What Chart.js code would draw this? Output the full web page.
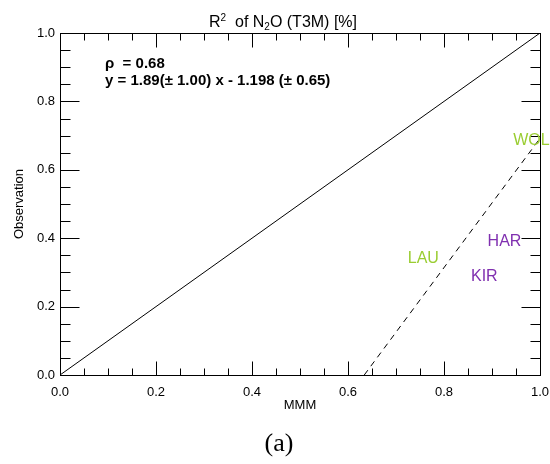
<!DOCTYPE html>
<html>
<head>
<meta charset="utf-8">
<script src="https://cdn.jsdelivr.net/npm/chart.js@4.4.1/dist/chart.umd.min.js"></script>
<style>
  html, body { margin: 0; padding: 0; background: #fff; }
  canvas { display: block; }
</style>
</head>
<body>
<canvas id="c" width="550" height="464"></canvas>
<script>
// Station labels: model (MMM) vs observation of R2
const stations = ['WOL', 'LAU', 'HAR', 'KIR'];
const stationModel = [0.982, 0.757, 0.926, 0.884];
const stationObs = [0.686, 0.341, 0.390, 0.288];
const stationColors = ['#9acd32', '#9acd32', '#8030b0', '#8030b0'];

// Linear fit and correlation
const fitSlope = 1.89;
const fitSlopeErr = 1.00;
const fitIntercept = -1.198;
const fitInterceptErr = 0.65;
const rho = 0.68;

// Axis setup
const axisMin = 0;
const axisMax = 1;
const majorTicks = [0.0, 0.2, 0.4, 0.6, 0.8, 1.0];
const minorStep = 0.05;

const FONT = 'Liberation Sans, Arial, Helvetica, sans-serif';

// Fit line runs from where it crosses y = 0 up to the right edge
const fitStartX = -fitIntercept / fitSlope;
const fitLine = [
  { x: fitStartX, y: fitSlope * fitStartX + fitIntercept },
  { x: axisMax, y: fitSlope * axisMax + fitIntercept }
];
const oneToOne = [{ x: axisMin, y: axisMin }, { x: axisMax, y: axisMax }];

const decorations = {
  id: 'decorations',
  afterDraw(chart) {
    const ctx = chart.ctx;
    const ca = chart.chartArea;
    const xs = chart.scales.x, ys = chart.scales.y;
    const L = Math.round(ca.left) + 0.5, R = Math.round(ca.right) + 0.5;
    const T = Math.round(ca.top) + 0.5, B = Math.round(ca.bottom) + 0.5;
    ctx.save();
    ctx.strokeStyle = '#000';
    ctx.lineWidth = 1;
    ctx.strokeRect(L, T, R - L, B - T);

    // inward ticks on all four sides
    const n = Math.round((axisMax - axisMin) / minorStep);
    ctx.beginPath();
    for (let i = 1; i < n; i++) {
      const v = axisMin + i * minorStep;
      const major = majorTicks.some(t => Math.abs(t - v) < 1e-9);
      const px = Math.round(xs.getPixelForValue(v)) + 0.5;
      const lx = major ? 14 : 7;
      ctx.moveTo(px, B); ctx.lineTo(px, B - lx);
      ctx.moveTo(px, T); ctx.lineTo(px, T + lx);
      const py = Math.round(ys.getPixelForValue(v)) + 0.5;
      const ly = major ? 19 : 10;
      ctx.moveTo(L, py); ctx.lineTo(L + ly, py);
      ctx.moveTo(R, py); ctx.lineTo(R - ly, py);
    }
    ctx.stroke();

    // station names at their points
    const meta = chart.getDatasetMeta(2);
    ctx.font = '16px ' + FONT;
    ctx.textAlign = 'center';
    ctx.textBaseline = 'middle';
    meta.data.forEach((pt, i) => {
      ctx.fillStyle = stationColors[i];
      ctx.fillText(stations[i], pt.x, pt.y);
    });

    // fit statistics
    ctx.fillStyle = '#000';
    ctx.textAlign = 'left';
    ctx.textBaseline = 'alphabetic';
    ctx.font = 'bold 15px ' + FONT;
    ctx.fillText('\u03C1  = ' + rho.toFixed(2), 105, 67.5);
    const sign = fitIntercept < 0 ? ' - ' : ' + ';
    ctx.fillText('y = ' + fitSlope.toFixed(2) + '(\u00B1 ' + fitSlopeErr.toFixed(2) + ') x' +
      sign + Math.abs(fitIntercept).toFixed(3) + ' (\u00B1 ' + fitInterceptErr.toFixed(2) + ')', 105, 85);

    // title with superscript and subscript
    const big = '16px ' + FONT, small = '10px ' + FONT;
    const parts = [
      { t: 'R', f: big, dy: 0 },
      { t: '2', f: small, dy: -6 },
      { t: '  of N', f: big, dy: 0 },
      { t: '2', f: small, dy: 3 },
      { t: 'O (T3M) [%]', f: big, dy: 0 }
    ];
    let total = 0;
    parts.forEach(p => { ctx.font = p.f; p.w = ctx.measureText(p.t).width; total += p.w; });
    let x = 283 - total / 2;
    const base = 27;
    parts.forEach(p => { ctx.font = p.f; ctx.fillText(p.t, x, base + p.dy); x += p.w; });

    // panel letter
    ctx.font = '26px "Liberation Serif", "Times New Roman", serif';
    ctx.textAlign = 'center';
    ctx.fillText('(a)', 279, 451);
    ctx.restore();
  }
};

new Chart(document.getElementById('c'), {
  type: 'scatter',
  data: {
    datasets: [
      { data: oneToOne, showLine: true, borderColor: '#000', borderWidth: 1, pointRadius: 0, fill: false },
      { data: fitLine, showLine: true, borderColor: '#000', borderWidth: 1, borderDash: [6, 5], pointRadius: 0, fill: false },
      { data: stations.map((s, i) => ({ x: stationModel[i], y: stationObs[i] })), showLine: false, pointRadius: 0 }
    ]
  },
  options: {
    responsive: false,
    animation: false,
    devicePixelRatio: 1,
    layout: { padding: { left: 0, top: 33, right: 10, bottom: 0 } },
    plugins: { legend: { display: false }, tooltip: { enabled: false }, title: { display: false } },
    scales: {
      x: {
        type: 'linear', min: axisMin, max: axisMax,
        afterFit(s) { s.height = 89; s.paddingLeft = 0; s.paddingRight = 0; },
        afterBuildTicks(s) { s.ticks = majorTicks.map(v => ({ value: v })); },
        grid: { display: false, drawTicks: false },
        border: { display: false },
        ticks: { padding: 10, color: '#000', font: { family: FONT, size: 13 }, maxRotation: 0, autoSkip: false,
                 callback: v => Number(v).toFixed(1) },
        title: { display: true, text: 'MMM', color: '#000', font: { family: FONT, size: 13 }, padding: { top: 0, bottom: 51 } }
      },
      y: {
        type: 'linear', min: axisMin, max: axisMax,
        afterFit(s) { s.width = 60; s.paddingTop = 0; s.paddingBottom = 0; },
        afterBuildTicks(s) { s.ticks = majorTicks.map(v => ({ value: v })); },
        grid: { display: false, drawTicks: false },
        border: { display: false },
        ticks: { padding: 5, color: '#000', font: { family: FONT, size: 13 }, autoSkip: false,
                 callback: v => Number(v).toFixed(1) },
        title: { display: true, text: 'Observation', color: '#000', font: { family: FONT, size: 13 }, padding: { top: 12, bottom: 0 } }
      }
    }
  },
  plugins: [decorations]
});
</script>
</body>
</html>
